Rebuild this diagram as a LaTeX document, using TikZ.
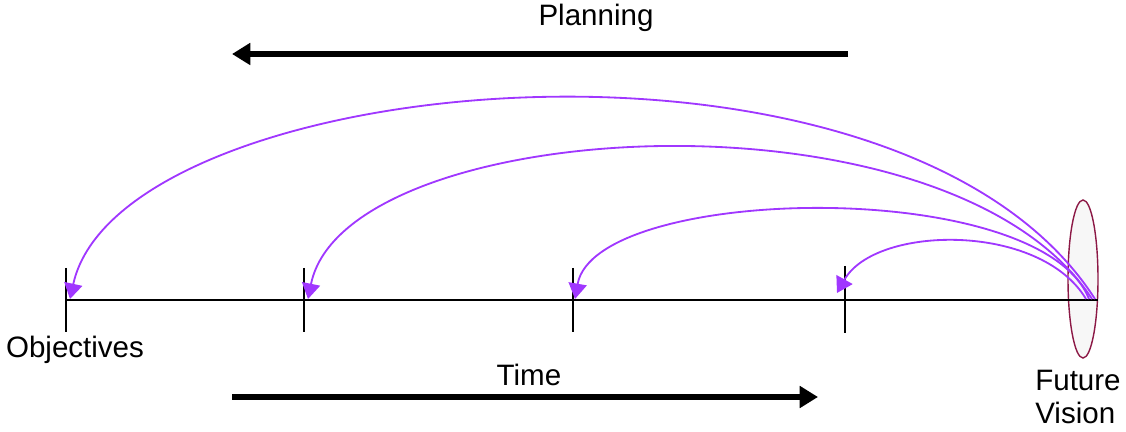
\documentclass[tikz,border=0pt]{standalone}
\usepackage{fontspec}
\setmainfont{Liberation Sans}
\usetikzlibrary{arrows.meta,shapes.geometric}
\definecolor{arcpurple}{RGB}{160,55,255}
\definecolor{ellred}{RGB}{140,25,70}
\begin{document}
\begin{tikzpicture}[x=0.025cm,y=-0.025cm,
  lbl/.style={font=\fontsize{21}{24}\selectfont, inner sep=0pt},
  bigarrow/.style={line width=3.6pt,-{Triangle[length=13pt,width=15pt]}},
  arc/.style={arcpurple, line width=1.3pt, -{Triangle[length=11pt,width=13pt]}},
  axis/.style={line width=1.4pt},
  tick/.style={line width=1.2pt}]
\useasboundingbox (0,0) rectangle (1126,432);
% vision ellipse
\node[ellipse, draw=ellred, fill=gray!6, line width=1pt, minimum width=30*0.025cm, minimum height=158*0.025cm, inner sep=0pt] (ell) at (1083,279) {};
% coordinates
\coordinate (L) at (66,300);
\coordinate (R) at (1098,300);
\coordinate (t1a) at (66,268); \coordinate (t1b) at (66,332);
\coordinate (t2a) at (304,268); \coordinate (t2b) at (304,332);
\coordinate (t3a) at (573,268); \coordinate (t3b) at (573,332);
\coordinate (t4a) at (845,266); \coordinate (t4b) at (845,333);
\coordinate (e1) at (70,299); \coordinate (e2) at (308,299);
\coordinate (e3) at (575,299); \coordinate (e4) at (837,293);
\coordinate (s1) at (1095,299); \coordinate (s2) at (1092,299);
\coordinate (s3) at (1089,299); \coordinate (s4) at (1086,299);
% axis
\draw[axis] (L) -- (R);
\draw[tick] (t1a) -- (t1b);
\draw[tick] (t2a) -- (t2b);
\draw[tick] (t3a) -- (t3b);
\draw[tick] (t4a) -- (t4b);
% arcs
\draw[arc] (s1) .. controls (900,-5) and (120,70) .. (e1);
\draw[arc] (s2) .. controls (950,80) and (345,115) .. (e2);
\draw[arc] (s3) .. controls (1040,175) and (595,185) .. (e3);
\draw[arc] (s4) .. controls (1040,222) and (875,225) .. (e4);
% big arrows
\coordinate (p1) at (848,54); \coordinate (p2) at (232,54);
\draw[bigarrow] (p1) -- (p2);
\coordinate (q1) at (232,397); \coordinate (q2) at (818,397);
\draw[bigarrow] (q1) -- (q2);
% labels
\node[lbl] (plan) at (596,18) {Planning};
\node[lbl] (time) at (529,375) {Time};
\node[lbl] (obj) at (75,350) {Objectives};
\node[lbl, align=left, anchor=west] (fv) at (1035,397) {Future\\Vision};
\end{tikzpicture}
\end{document}
